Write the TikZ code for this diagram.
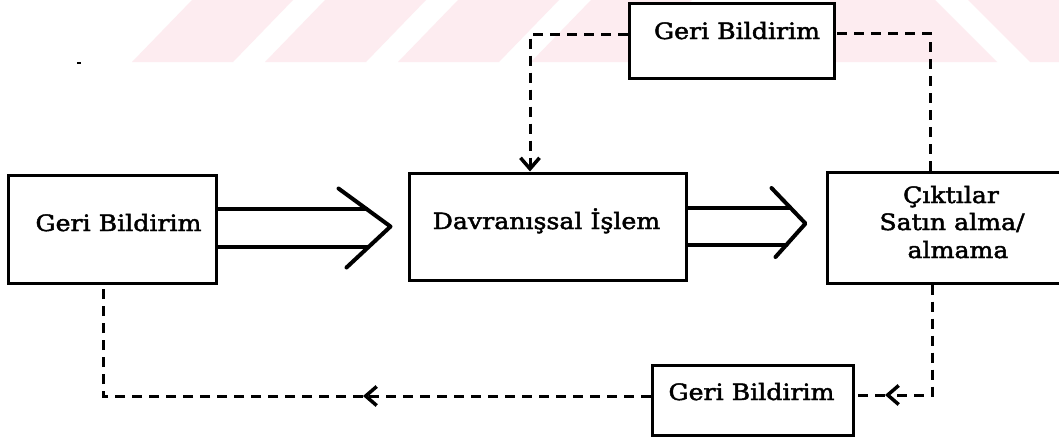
\documentclass[tikz,border=0pt]{standalone}
\usepackage{fontspec}
\newfontfamily\lblfont{DejaVu Serif}[FakeStretch=1.12,FakeBold=2]
\usetikzlibrary{arrows.meta,calc}
\definecolor{wm}{RGB}{253,236,240}
\begin{document}
\begin{tikzpicture}[x=1pt,y=-1pt,
  box/.style={draw, line width=3pt, fill=white, inner sep=0pt},
  lbl/.style={anchor=base, inner sep=0pt, font=\lblfont\fontsize{22.5}{27}\selectfont},
  fat/.style={line width=4pt, line cap=round, line join=round},
  dsh/.style={line width=3pt, dash pattern=on 10pt off 7pt},
  tipv/.style={-{Straight Barb[length=11pt,width=19pt,line width=3.5pt]}}
]
\useasboundingbox (0,0) rectangle (1059,440);
\fill[white] (0,0) rectangle (1059,440);
% watermark
\foreach \k in {0,1,2,3}{
  \fill[wm] ({132+133*\k},62) -- ({233+133*\k},62) -- ({293+133*\k},0) -- ({192+133*\k},0) -- cycle;
}
\fill[wm] (830,0) -- (935,0) -- (997,62) -- (830,62) -- cycle;
\fill[wm] (968,0) -- (1059,0) -- (1059,62) -- (1030,62) -- cycle;
\fill[black] (77,62) rectangle (81,64);
% boxes
\node[box, minimum width=208pt, minimum height=108pt] (L) at (112,229) {};
\node[lbl] (Lt) at (118.5,231) {Geri Bildirim};
\node[box, minimum width=277pt, minimum height=107pt] (M) at (547.5,226.5) {};
\node[lbl] (Mt) at (546.5,229) {Davranışsal İşlem};
\node[box, minimum width=263pt, minimum height=111pt] (R) at (958.5,227.5) {};
\node[lbl] (R1) at (951,203) {Çıktılar};
\node[lbl] (R2) at (952,230) {Satın alma/};
\node[lbl] (R3) at (958,258) {almama};
\node[box, minimum width=205pt, minimum height=75pt] (T) at (731.5,40.5) {};
\node[lbl] (Tt) at (737,39) {Geri Bildirim};
\node[box, minimum width=201pt, minimum height=70pt] (B) at (752.5,400) {};
\node[lbl] (Bt) at (751.5,400) {Geri Bildirim};
% fat arrow 1
\coordinate (t1) at ($(M.west)+(-17,0)$);
\coordinate (u1) at ($(t1)+(-24,-18)$);
\coordinate (d1) at ($(t1)+(-23,20)$);
\draw[fat] ($(t1)+(-52,-38)$) -- (t1) -- ($(t1)+(-44,41)$);
\draw[fat] (L.east |- u1) -- (u1);
\draw[fat] (L.east |- d1) -- (d1);
% fat arrow 2
\coordinate (t2) at ($(R.west)+(-20,-4)$);
\coordinate (u2) at ($(t2)+(-15,-15.5)$);
\coordinate (d2) at ($(t2)+(-19,21.5)$);
\draw[fat] ($(t2)+(-34,-35.5)$) -- (t2) -- ($(t2)+(-30,33.5)$);
\draw[fat] (M.east |- u2) -- (u2);
\draw[fat] (M.east |- d2) -- (d2);
% dashed feedback
\coordinate (c1) at (530,34);
\draw[dsh, tipv] ([yshift=6.5pt]T.west) -- (c1) -- (c1 |- M.north);
\coordinate (c2) at (930,33);
\draw[dsh] (R.north -| c2) -- (c2) -- (c2 -| T.east);
\coordinate (c3) at (932,395);
\coordinate (a3) at (885,395);
\draw[dsh, tipv] (c3 |- R.south) -- (c3) -- (a3);
\draw[dsh] (a3) -- (a3 -| B.east);
\coordinate (c4) at (103,396);
\coordinate (a4) at (363,396);
\draw[dsh, tipv] (B.west |- c4) -- (a4);
\draw[dsh] (a4) -- (c4) -- (c4 |- L.south);
\end{tikzpicture}
\end{document}
